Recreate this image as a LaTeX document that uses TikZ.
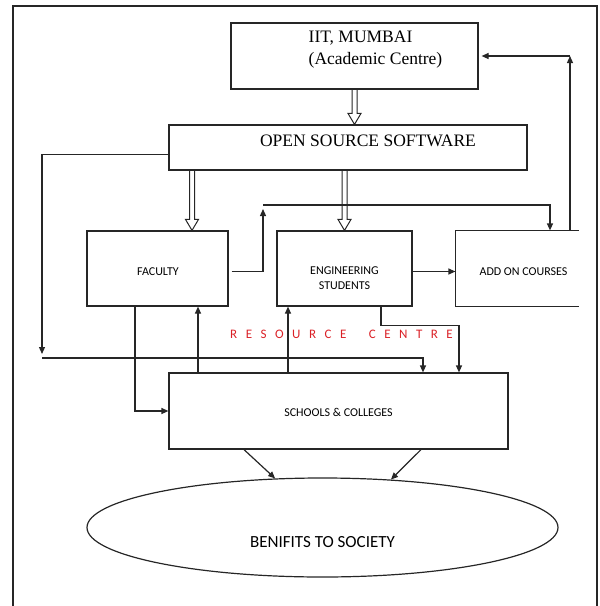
\documentclass[tikz,border=0pt]{standalone}
\usepackage{fontspec}
\setmainfont{Liberation Serif}
\setsansfont{Carlito}
\usetikzlibrary{arrows.meta,calc,shapes.geometric}

\definecolor{resred}{RGB}{218,32,38}

% hollow (outlined) arrow going straight down from #1 to #2
\newcommand{\hollowdown}[2]{%
  \draw [hollow line] let \p1=(#1), \p2=(#2) in
    (\x1-2.5pt,\y1) -- (\x1-2.5pt,\y2+11pt) -- (\x1-6.5pt,\y2+11pt) -- (\x1,\y2)
    -- (\x1+6.5pt,\y2+11pt) -- (\x1+2.5pt,\y2+11pt) -- (\x1+2.5pt,\y1);}

\begin{document}
\begin{tikzpicture}[x=1pt, y=-1pt, >={Triangle[length=7pt,width=6pt]},
  line width=1.2pt, draw=black!85,
  box/.style={draw, rectangle, inner sep=0pt},
  hollow line/.style={line width=1pt},
  serif text/.style={font=\fontsize{17.5}{22}\selectfont, align=left},
  small text/.style={font=\sffamily\fontsize{12}{15}\selectfont, align=center},
  resource/.style={text=resred, font=\sffamily\fontsize{13}{15}\selectfont}]

  \useasboundingbox (0,0) rectangle (600,606);

  % frame
  \draw [line width=1.5pt] (13,606) -- (13,6) -- (597,6) -- (597,606);

  % boxes
  \node [box, minimum width=247pt, minimum height=66pt] (iit) at (354.5,56) {};
  \node [box, minimum width=358pt, minimum height=45pt] (oss) at (348,147.5) {};
  \node [box, minimum width=141pt, minimum height=75pt] (faculty) at (157.5,268.5) {};
  \node [box, minimum width=135pt, minimum height=75pt] (students) at (344.5,268.5) {};
  \node [minimum width=122pt, minimum height=75pt, inner sep=0pt] (addon) at (517,268.5) {};
  \draw (addon.north east) -- (addon.north west) -- (addon.south west) -- (addon.south east);
  \node [box, minimum width=339pt, minimum height=76pt] (schools) at (338.5,411) {};
  \node [ellipse, draw, minimum width=471pt, minimum height=99pt, inner sep=0pt] (society) at (322.5,527.5) {};

  % labels
  \node [serif text] (iit-text) at (375.5,50) {IIT, MUMBAI\\(Academic Centre)};
  \node [font=\fontsize{17.5}{22}\selectfont] (oss-text) at (368,140.5) {OPEN SOURCE SOFTWARE};
  \node [small text] (faculty-text) at (158,271.5) {FACULTY};
  \node [small text] (students-text) at (344.5,278) {ENGINEERING\\STUDENTS};
  \node [small text] (addon-text) at (523.5,271.5) {ADD ON COURSES};
  \node [small text] (schools-text) at (338.5,412) {SCHOOLS \& COLLEGES};
  \node [font=\sffamily\fontsize{17}{20}\selectfont] (society-text) at (322.5,542.5) {BENIFITS TO SOCIETY};
  \node [resource] (resource-text) at (341.5,334)
    {\spaceskip=8.5pt\relax R E S O U R C E \hspace{14pt}C E N T R E};

  % hollow arrows
  \hollowdown{iit.south}{oss.north}
  \foreach \src/\dx in {faculty/34.5, students/0}
  {\hollowdown{[xshift=\dx pt]\src.north |- oss.south}{[xshift=\dx pt]\src.north}}

  % turning points
  \coordinate (oss-drop) at (42,354);
  \coordinate (res-left) at (42,358);
  \coordinate (fac-rise) at (263,209);
  \coordinate (loop-top) at (570,56);

  \draw [->] ([yshift=-7pt]oss.west) -| (oss-drop);
  \draw [->] (res-left) -| ([xshift=84.5pt]schools.north);

  \draw [->] ([xshift=3pt,yshift=-3pt]faculty.east) -| (fac-rise);
  \draw [->] ([yshift=4pt]fac-rise) -| ([xshift=33pt]addon.north);
  \draw [->] ([yshift=-3pt]students.east) -- ([yshift=-3pt]addon.west);

  \draw [->] (addon.north -| loop-top) -- (loop-top);
  \draw [->] (loop-top) -- ([xshift=3pt]iit.east);

  \draw [->] ([xshift=36.5pt]students.south) -- ++(0,19) -| ([xshift=120.5pt]schools.north);
  \draw [->] ([xshift=-22.5pt]faculty.south) |- (schools.west);

  \foreach \src/\dx in {faculty/40.5, students/-56.5}
  \draw [->] ([xshift=\dx pt]\src.south |- schools.north) -- ([xshift=\dx pt]\src.south);

  \foreach \dx/\a in {-94.5/134, 82.5/35}
  \draw [->] ([xshift=\dx pt]schools.south) -- (society.\a);

\end{tikzpicture}
\end{document}
